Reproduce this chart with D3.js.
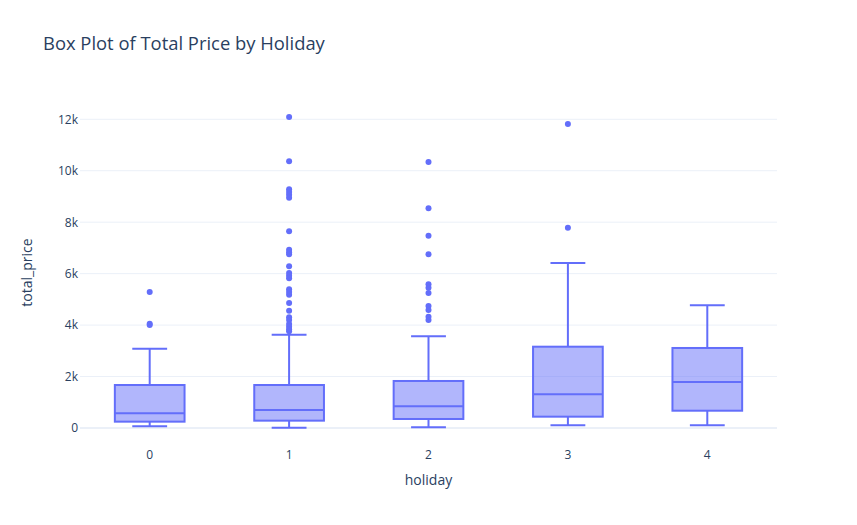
<!DOCTYPE html>
<html>
<head>
<meta charset="utf-8">
<script src="https://cdn.jsdelivr.net/npm/d3@7"></script>
<style>
  body { margin: 0; background: #fff; }
  svg { display: block; font-family: "Open Sans", verdana, arial, sans-serif; }
</style>
</head>
<body>
<div id="chart"></div>
<script>
// Box statistics, one entry per holiday value
const categories = ['0', '1', '2', '3', '4'];
const lowerFence = [65, 12, 26, 104, 104];
const q1 = [246, 285, 350, 440, 672];
const median = [571, 700, 842, 1310, 1788];
const q3 = [1671, 1671, 1827, 3160, 3110];
const upperFence = [3082, 3627, 3564, 6413, 4768];
const outliers = [
    [5286, 4050, 4000],
    [12090, 10367, 9277, 9173, 9069, 8953, 7645, 6931, 6828, 6750, 6284,
     6025, 5921, 5818, 5390, 5286, 5182, 4859, 4560, 4302, 4198,
     4042, 3938, 3836, 3760],
    [10339, 8540, 7475, 6750, 5585, 5454, 5247, 4742, 4586, 4327, 4198],
    [11816, 7786],
    []
];
const yTicks = [0, 2000, 4000, 6000, 8000, 10000, 12000];

const width = 857, height = 525;
const margin = { top: 100, right: 80, bottom: 80, left: 80 };
const innerW = width - margin.left - margin.right;
const innerH = height - margin.top - margin.bottom;
const color = '#636efa';
const textColor = '#2a3f5f';
const gridColor = '#ebf0f8';

const svg = d3.select('#chart').append('svg')
    .attr('width', width)
    .attr('height', height);

const g = svg.append('g')
    .attr('transform', `translate(${margin.left},${margin.top})`);

const x = d3.scaleBand()
    .domain(categories)
    .range([0, innerW]);

const y = d3.scaleLinear()
    .domain([-661, 12749])
    .range([innerH, 0]);

const boxW = x.bandwidth() * 0.5;
const capW = boxW * 0.5;

// Grid lines
g.append('g')
    .selectAll('line')
    .data(yTicks.filter(d => d !== 0))
    .join('line')
    .attr('x1', 0).attr('x2', innerW)
    .attr('y1', d => y(d)).attr('y2', d => y(d))
    .attr('stroke', gridColor)
    .attr('stroke-width', 1);

// Zero line
g.append('line')
    .attr('x1', 0).attr('x2', innerW)
    .attr('y1', y(0)).attr('y2', y(0))
    .attr('stroke', gridColor)
    .attr('stroke-width', 2);

// Y axis
const yAxis = g.append('g')
    .call(d3.axisLeft(y).tickValues(yTicks).tickSize(0).tickPadding(2)
        .tickFormat(d => d === 0 ? '0' : (d / 1000) + 'k'));
yAxis.select('.domain').remove();
yAxis.selectAll('text')
    .attr('fill', textColor)
    .attr('font-size', '12px')
    .attr('font-family', '"Open Sans", verdana, arial, sans-serif');

// X axis
const xAxis = g.append('g')
    .attr('transform', `translate(0,${innerH})`)
    .call(d3.axisBottom(x).tickSize(0).tickPadding(5));
xAxis.select('.domain').remove();
xAxis.selectAll('text')
    .attr('fill', textColor)
    .attr('font-size', '12px')
    .attr('font-family', '"Open Sans", verdana, arial, sans-serif');

// Boxes
const boxes = g.append('g')
    .selectAll('g')
    .data(categories)
    .join('g')
    .attr('transform', d => `translate(${x(d) + x.bandwidth() / 2},0)`);

// Whiskers
boxes.append('path')
    .attr('d', (d, i) =>
        `M0,${y(q3[i])}V${y(upperFence[i])}M${-capW / 2},${y(upperFence[i])}H${capW / 2}` +
        `M0,${y(q1[i])}V${y(lowerFence[i])}M${-capW / 2},${y(lowerFence[i])}H${capW / 2}`)
    .attr('fill', 'none')
    .attr('stroke', color)
    .attr('stroke-width', 2);

// Box body
boxes.append('rect')
    .attr('x', -boxW / 2)
    .attr('width', boxW)
    .attr('y', (d, i) => y(q3[i]))
    .attr('height', (d, i) => y(q1[i]) - y(q3[i]))
    .attr('fill', 'rgba(99,110,250,0.5)')
    .attr('stroke', color)
    .attr('stroke-width', 2);

// Median
boxes.append('line')
    .attr('x1', -boxW / 2).attr('x2', boxW / 2)
    .attr('y1', (d, i) => y(median[i]))
    .attr('y2', (d, i) => y(median[i]))
    .attr('stroke', color)
    .attr('stroke-width', 2);

// Outliers
boxes.selectAll('circle')
    .data((d, i) => outliers[i])
    .join('circle')
    .attr('cx', 0)
    .attr('cy', d => y(d))
    .attr('r', 3)
    .attr('fill', color);

// Title
svg.append('text')
    .attr('x', 43)
    .attr('y', 50)
    .attr('fill', textColor)
    .attr('font-size', '18.4px')
    .text('Box Plot of Total Price by Holiday');

// Axis titles
svg.append('text')
    .attr('x', margin.left + innerW / 2)
    .attr('y', 485)
    .attr('text-anchor', 'middle')
    .attr('fill', textColor)
    .attr('font-size', '14px')
    .text('holiday');

svg.append('text')
    .attr('transform', `translate(32,${margin.top + innerH / 2}) rotate(-90)`)
    .attr('text-anchor', 'middle')
    .attr('fill', textColor)
    .attr('font-size', '14px')
    .text('total_price');
</script>
</body>
</html>
